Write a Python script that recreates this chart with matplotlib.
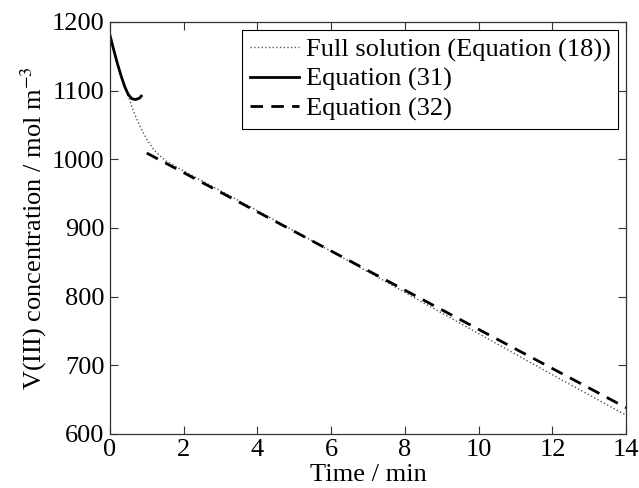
import matplotlib
matplotlib.use('Agg')
from matplotlib import pyplot as plt

plt.rcParams['font.family'] = ['Liberation Serif', 'DejaVu Serif']
plt.rcParams['mathtext.fontset'] = 'stix'

# full solution (Equation (18))
t_full = [0, 0.1, 0.2, 0.3, 0.4, 0.5, 0.6, 0.7, 0.8, 0.9, 1.0, 1.2, 1.5, 2, 4, 6, 8, 10, 12, 14]
c_full = [1181, 1160, 1140, 1122, 1106, 1092, 1076, 1062, 1050, 1039, 1029, 1013, 998, 983, 925, 866, 806, 746, 686, 627]

# Equation (31), short-time
t_31 = [0, 0.1, 0.2, 0.3, 0.4, 0.5, 0.6, 0.7, 0.8, 0.85]
c_31 = [1181, 1160, 1140, 1122, 1106, 1094, 1088, 1087, 1089, 1092]

# Equation (32), long-time
t_32 = [1, 14]
c_32 = [1009, 638]

fs = 19

fig = plt.figure(figsize=(6.39, 4.88), dpi=100)
ax = fig.add_axes([0.172, 0.111, 0.808, 0.844])

ax.plot(t_full, c_full, color='#555555', linestyle=':', linewidth=1.0, label='Full solution (Equation (18))')
ax.plot(t_31, c_31, color='black', linestyle='-', linewidth=2.0, label='Equation (31)')
ax.plot(t_32, c_32, color='black', linestyle=(0, (4.5, 3)), linewidth=2.0, label='Equation (32)')

ax.set_xlim(0, 14)
ax.set_ylim(600, 1200)
ax.set_xticks(range(0, 15, 2))
ax.set_yticks(range(600, 1201, 100))
ax.tick_params(direction='in', top=True, right=True, labelsize=fs, length=6, width=0.8,
               color='#333333', pad=4)
for s in ax.spines.values():
    s.set_color('#333333')
    s.set_linewidth(0.9)

ax.set_xlabel('Time / min', fontsize=fs, labelpad=2)
ax.set_ylabel('V(III) concentration / mol m$^{-3}$', fontsize=fs, labelpad=2)

leg = ax.legend(loc='upper right', fontsize=fs, handlelength=1.85, handletextpad=0.25,
                labelspacing=0.22, borderpad=0.3, fancybox=False, framealpha=1,
                edgecolor='black', borderaxespad=0.3)
leg.get_frame().set_linewidth(0.8)

fig.savefig('out.png', dpi=100)
